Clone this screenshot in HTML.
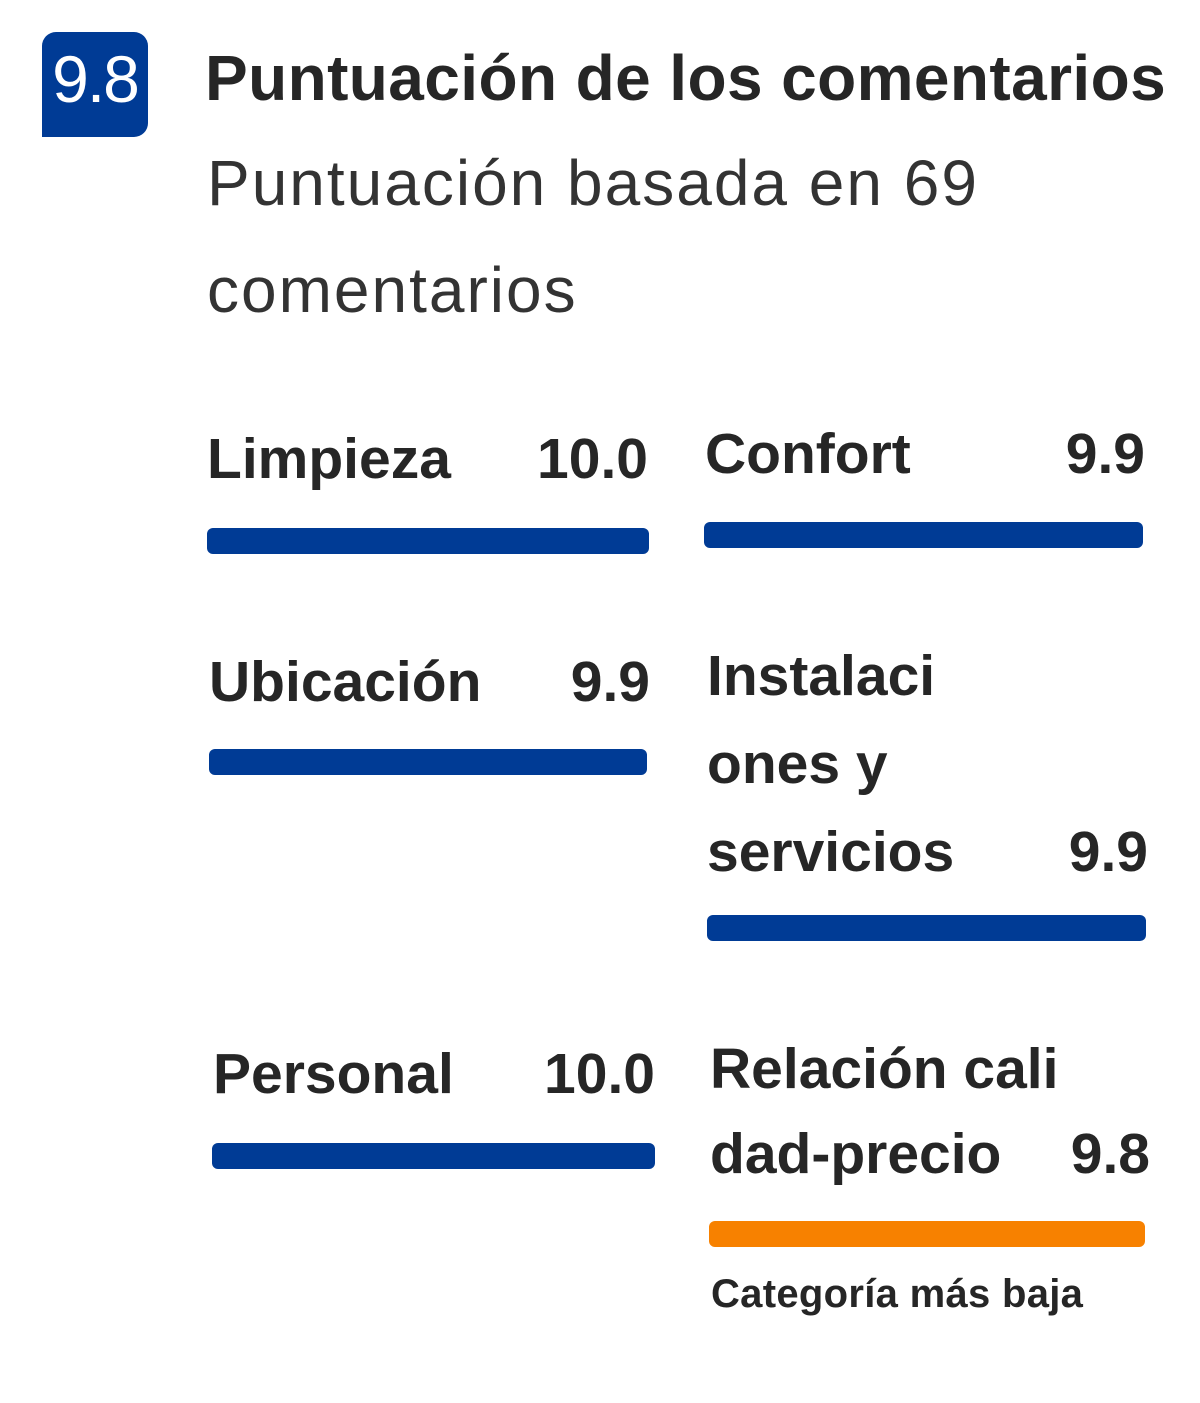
<!DOCTYPE html>
<html><head><meta charset="utf-8"><style>
body{margin:0;width:1200px;height:1403px;background:#fff;position:relative;overflow:hidden;font-family:"Liberation Sans",sans-serif;color:#262626}
.t{position:absolute;line-height:1;white-space:nowrap}
.b{font-weight:bold}
.r{text-align:right}
.bar{position:absolute;height:26px;border-radius:6px;background:#003b95}
</style></head><body>
<div style="position:absolute;left:42px;top:32px;width:106px;height:105px;background:#003b95;border-radius:14px 14px 14px 0"></div>
<div class="t" style="left:40px;width:110px;text-align:center;top:46px;font-size:66px;color:#fff;letter-spacing:-2px">9.8</div>
<div class="t b" style="left:205px;top:46px;font-size:64px;letter-spacing:0.4px">Puntuación de los comentarios</div>
<div class="t" style="left:207px;top:151px;font-size:64px;color:#333;letter-spacing:2px">Puntuación basada en 69</div>
<div class="t" style="left:207px;top:258px;font-size:64px;color:#333;letter-spacing:2px">comentarios</div>

<div class="t b" style="left:207px;top:431px;font-size:57px">Limpieza</div>
<div class="t b r" style="right:552px;top:431px;font-size:57px">10.0</div>
<div class="bar" style="left:207px;top:528px;width:442px"></div>

<div class="t b" style="left:705px;top:426px;font-size:57px">Confort</div>
<div class="t b r" style="right:55px;top:426px;font-size:57px">9.9</div>
<div class="bar" style="left:704px;top:522px;width:439px"></div>

<div class="t b" style="left:209px;top:654px;font-size:57px">Ubicación</div>
<div class="t b r" style="right:550px;top:654px;font-size:57px">9.9</div>
<div class="bar" style="left:209px;top:749px;width:438px"></div>

<div class="t b" style="left:707px;top:648px;font-size:57px">Instalaci</div>
<div class="t b" style="left:707px;top:736px;font-size:57px">ones y</div>
<div class="t b" style="left:707px;top:824px;font-size:57px">servicios</div>
<div class="t b r" style="right:52px;top:824px;font-size:57px">9.9</div>
<div class="bar" style="left:707px;top:915px;width:439px"></div>

<div class="t b" style="left:213px;top:1046px;font-size:57px">Personal</div>
<div class="t b r" style="right:545px;top:1046px;font-size:57px">10.0</div>
<div class="bar" style="left:212px;top:1143px;width:443px"></div>

<div class="t b" style="left:710px;top:1041px;font-size:57px">Relación cali</div>
<div class="t b" style="left:710px;top:1126px;font-size:57px">dad-precio</div>
<div class="t b r" style="right:50px;top:1126px;font-size:57px">9.8</div>
<div class="bar" style="left:709px;top:1221px;width:436px;background:#f78100"></div>
<div class="t b" style="left:711px;top:1274px;font-size:40px;letter-spacing:0.3px">Categoría más baja</div>
</body></html>
